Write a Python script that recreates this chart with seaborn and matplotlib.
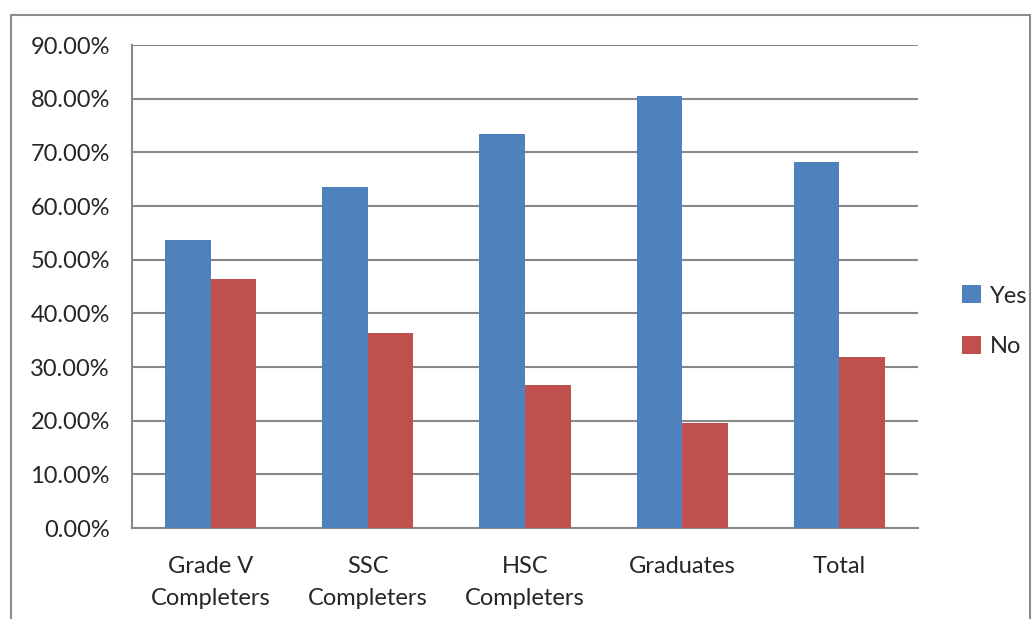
import matplotlib
matplotlib.use("Agg")
import matplotlib.pyplot as plt
from matplotlib.lines import Line2D
from matplotlib.ticker import FuncFormatter, MultipleLocator, FixedLocator
import seaborn as sns
import pandas as pd

categories = ["Grade V\nCompleters", "SSC\nCompleters", "HSC\nCompleters", "Graduates", "Total"]
yes_values = [53.6, 63.6, 73.4, 80.5, 68.2]
no_values = [46.4, 36.4, 26.6, 19.5, 31.8]
series_names = ["Yes", "No"]
colors = ["#4F81BD", "#C0504D"]

df = pd.DataFrame({
    "category": categories * 2,
    "value": yes_values + no_values,
    "series": [series_names[0]] * len(categories) + [series_names[1]] * len(categories),
})

sns.set_style("white")
plt.rcParams["font.family"] = ["Lato", "DejaVu Sans"]

fig = plt.figure(figsize=(10.32, 6.19), dpi=100)
ax = fig.add_axes([0.128, 0.147, 0.7615, 0.7803])

sns.barplot(data=df, x="category", y="value", hue="series", palette=colors,
            width=0.58, ax=ax, saturation=1, edgecolor="none", zorder=3)

grid_c = "#888888"
fs = 17
ax.set_ylim(0, 90)
ax.set_xlim(-0.5, len(categories) - 0.5)
ax.yaxis.set_major_locator(MultipleLocator(10))
ax.yaxis.set_major_formatter(FuncFormatter(lambda v, p: f"{v:.2f}%"))
ax.yaxis.grid(True, color=grid_c, linewidth=1.5, zorder=0)
ax.set_axisbelow(True)

ax.xaxis.set_minor_locator(FixedLocator([i - 0.5 for i in range(len(categories) + 1)]))
ax.tick_params(axis="x", which="major", length=0, pad=20, labelsize=fs)
ax.tick_params(axis="x", which="minor", length=7, width=1.5, color=grid_c, direction="out")
ax.tick_params(axis="y", which="major", length=8, width=1.5, color=grid_c, direction="out",
               labelsize=fs, pad=8)
for lbl in ax.get_xticklabels():
    lbl.set_linespacing(1.65)
ax.set_xlabel("")
ax.set_ylabel("")

for side in ["top", "right"]:
    ax.spines[side].set_visible(False)
for side in ["left", "bottom"]:
    ax.spines[side].set_color(grid_c)
    ax.spines[side].set_linewidth(1.5)

leg = ax.legend(loc="center left", bbox_to_anchor=(0.932, 0.481),
                bbox_transform=fig.transFigure, frameon=False, borderaxespad=0,
                borderpad=0, fontsize=fs, handlelength=0.8, handleheight=0.8,
                handletextpad=0.4, labelspacing=1.25)

# outer chart border
bc = "#8c8c8c"
fig.add_artist(Line2D([0.0107, 0.0107], [0.976, -0.01], transform=fig.transFigure, color=bc, lw=1.5))
fig.add_artist(Line2D([0.0107, 0.998], [0.976, 0.976], transform=fig.transFigure, color=bc, lw=1.5))
fig.add_artist(Line2D([0.998, 0.998], [0.976, -0.01], transform=fig.transFigure, color=bc, lw=1.5))

fig.savefig("out.png", dpi=100)
